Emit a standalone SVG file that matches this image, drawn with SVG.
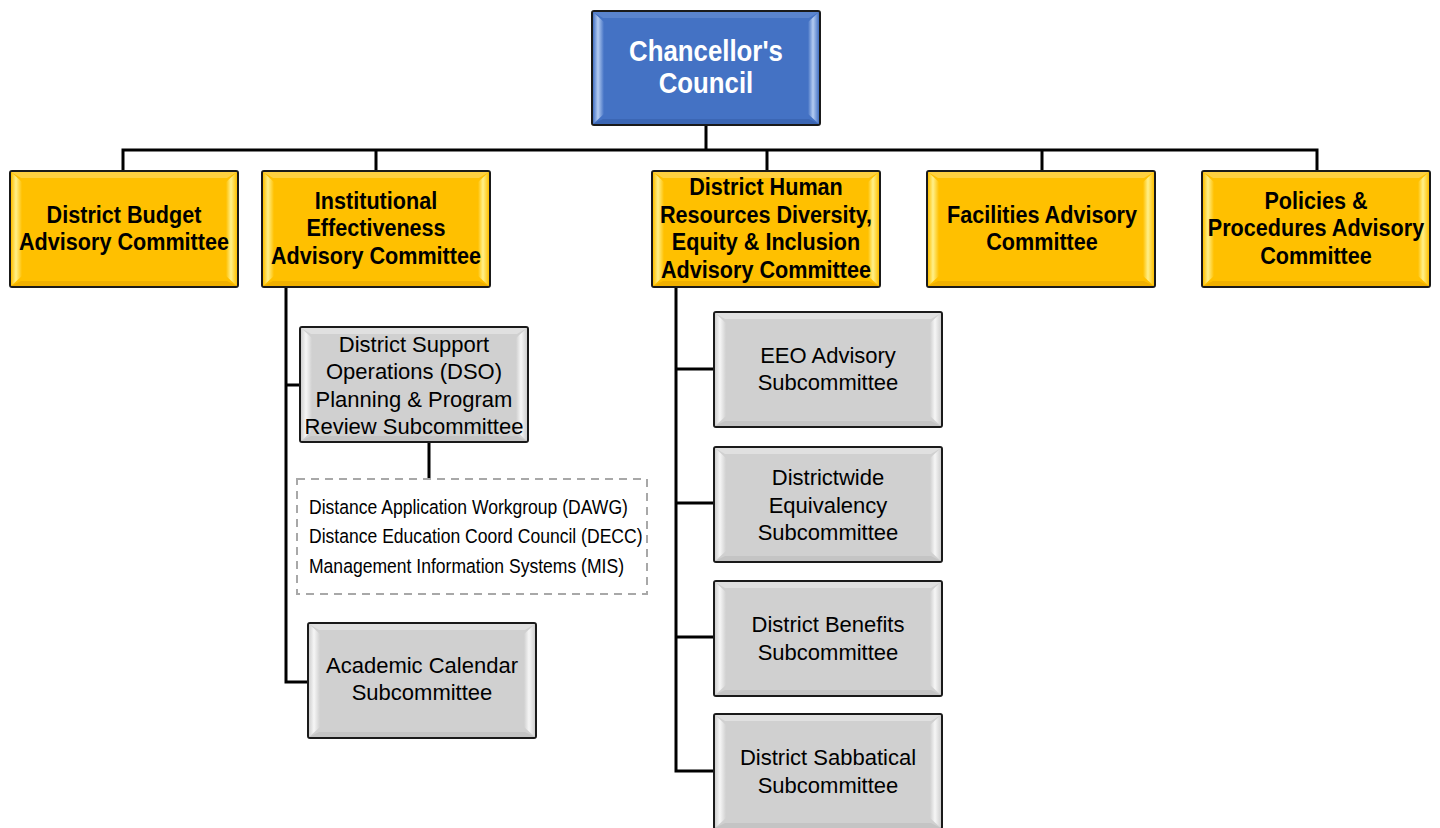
<svg xmlns="http://www.w3.org/2000/svg" xmlns:xlink="http://www.w3.org/1999/xlink" width="1440" height="828" viewBox="0 0 1440 828">
<style>
.conn{stroke:#000;stroke-width:3;fill:none;stroke-linecap:square}
.b{font-family:"Liberation Sans",Arial,sans-serif;font-weight:bold;text-anchor:middle}
.r{font-family:"Liberation Sans",Arial,sans-serif;text-anchor:middle;fill:#000;font-size:22px}
.y{font-size:24px;fill:#000}
.w{font-size:30px;fill:#fff}
.l{font-family:"Liberation Sans",Arial,sans-serif;font-size:19.5px;fill:#000}
.frame{stroke:#1a1a1a;stroke-width:2}
</style>
<defs>
<linearGradient id="yl" x1="0" x2="1" y1="0" y2="0"><stop offset="0" stop-color="#FFC000"/><stop offset="0.45" stop-color="#FFF08A"/><stop offset="1" stop-color="#FFC000"/></linearGradient>
<linearGradient id="gl" x1="0" x2="1" y1="0" y2="0"><stop offset="0" stop-color="#D0D0D0"/><stop offset="0.45" stop-color="#F6F6F6"/><stop offset="1" stop-color="#D0D0D0"/></linearGradient>
<linearGradient id="bl" x1="0" x2="1" y1="0" y2="0"><stop offset="0" stop-color="#4472C4"/><stop offset="0.45" stop-color="#B4CCF2"/><stop offset="1" stop-color="#4472C4"/></linearGradient>
<symbol id="ybox" viewBox="0 0 230 118" width="230" height="118" overflow="visible">
<rect x="1" y="1" width="228" height="116" rx="2" fill="#FFC000" class="frame"/>
<polygon points="2,2 228,2 218,8 12,8" fill="#FFD040"/>
<polygon points="2,116 228,116 218,111 12,111" fill="#F0B000"/>
<polygon points="2,2 13,12 13,106 2,116" fill="url(#yl)"/>
<polygon points="228,2 217,12 217,106 228,116" fill="url(#yl)"/>
</symbol>
<symbol id="gbox" viewBox="0 0 230 117" width="230" height="117" overflow="visible">
<rect x="1" y="1" width="228" height="115" rx="2" fill="#D0D0D0" class="frame"/>
<polygon points="2,2 228,2 218,8 12,8" fill="#E0E0E0"/>
<polygon points="2,115 228,115 218,110 12,110" fill="#C4C4C4"/>
<polygon points="2,2 13,12 13,105 2,115" fill="url(#gl)"/>
<polygon points="228,2 217,12 217,105 228,115" fill="url(#gl)"/>
</symbol>
<symbol id="bbox" viewBox="0 0 230 116" width="230" height="116" overflow="visible">
<rect x="1" y="1" width="228" height="114" rx="2" fill="#4472C4" class="frame"/>
<polygon points="2,2 228,2 218,8 12,8" fill="#5A84CE"/>
<polygon points="2,114 228,114 218,109 12,109" fill="#3B66B4"/>
<polygon points="2,2 13,12 13,104 2,114" fill="url(#bl)"/>
<polygon points="228,2 217,12 217,104 228,114" fill="url(#bl)"/>
</symbol>
</defs>
<rect width="1440" height="828" fill="#fff"/>
<g id="connectors">
<path class="conn" d="M706,125 V150 M123,150 H1317 M123,150 V170 M376,150 V170 M767,150 V170 M1042,150 V170 M1317,150 V170"/>
<path class="conn" d="M286,288 V682 H307 M286,385 H299 M429,443 V478"/>
<path class="conn" d="M676,288 V771 H713 M676,369 H713 M676,503 H713 M676,637 H713"/>
</g>
<g id="council">
<use xlink:href="#bbox" x="591" y="10"/>
<g class="b w" transform="translate(706,0) scale(0.86,1)"><text x="0" y="61">Chancellor's</text><text x="0" y="93">Council</text></g>
</g>
<g id="budget">
<use xlink:href="#ybox" x="9" y="170"/>
<g class="b y" transform="translate(124,0) scale(0.9,1)"><text x="0" y="223.5">District Budget</text><text x="0" y="250.5">Advisory Committee</text></g>
</g>
<g id="ie">
<use xlink:href="#ybox" x="261" y="170"/>
<g class="b y" transform="translate(376,0) scale(0.9,1)"><text x="0" y="209.5">Institutional</text><text x="0" y="236.5">Effectiveness</text><text x="0" y="264.5">Advisory Committee</text></g>
</g>
<g id="hr">
<use xlink:href="#ybox" x="651" y="170"/>
<g class="b y" transform="translate(766,0) scale(0.9,1)"><text x="0" y="195.5">District Human</text><text x="0" y="223.5">Resources Diversity,</text><text x="0" y="250.5">Equity &amp; Inclusion</text><text x="0" y="278.5">Advisory Committee</text></g>
</g>
<g id="facilities">
<use xlink:href="#ybox" x="926" y="170"/>
<g class="b y" transform="translate(1042,0) scale(0.9,1)"><text x="0" y="223.5">Facilities Advisory</text><text x="0" y="250.5">Committee</text></g>
</g>
<g id="policies">
<use xlink:href="#ybox" x="1201" y="170"/>
<g class="b y" transform="translate(1316,0) scale(0.9,1)"><text x="0" y="209.5">Policies &amp;</text><text x="0" y="236.5">Procedures Advisory</text><text x="0" y="264.5">Committee</text></g>
</g>
<g id="dso">
<use xlink:href="#gbox" x="299" y="326"/>
<text class="r" x="414" y="352">District Support</text><text class="r" x="414" y="379">Operations (DSO)</text><text class="r" x="414" y="407">Planning &amp; Program</text><text class="r" x="414" y="434">Review Subcommittee</text>
</g>
<g id="workgroups">
<rect x="297" y="479" width="350" height="115" fill="none" stroke="#A8A8A8" stroke-width="2" stroke-dasharray="8,6"/>
<g class="l" transform="translate(309,0) scale(0.9,1)">
<text x="0" y="514">Distance Application Workgroup (DAWG)</text>
<text x="0" y="543">Distance Education Coord Council (DECC)</text>
<text x="0" y="573">Management Information Systems (MIS)</text>
</g>
</g>
<g id="calendar">
<use xlink:href="#gbox" x="307" y="622"/>
<text class="r" x="422" y="673">Academic Calendar</text><text class="r" x="422" y="700">Subcommittee</text>
</g>
<g id="eeo">
<use xlink:href="#gbox" x="713" y="311"/>
<text class="r" x="828" y="363">EEO Advisory</text><text class="r" x="828" y="390">Subcommittee</text>
</g>
<g id="equivalency">
<use xlink:href="#gbox" x="713" y="446"/>
<text class="r" x="828" y="485">Districtwide</text><text class="r" x="828" y="513">Equivalency</text><text class="r" x="828" y="540">Subcommittee</text>
</g>
<g id="benefits">
<use xlink:href="#gbox" x="713" y="580"/>
<text class="r" x="828" y="632">District Benefits</text><text class="r" x="828" y="660">Subcommittee</text>
</g>
<g id="sabbatical">
<use xlink:href="#gbox" x="713" y="713"/>
<text class="r" x="828" y="765">District Sabbatical</text><text class="r" x="828" y="793">Subcommittee</text>
</g>
</svg>
